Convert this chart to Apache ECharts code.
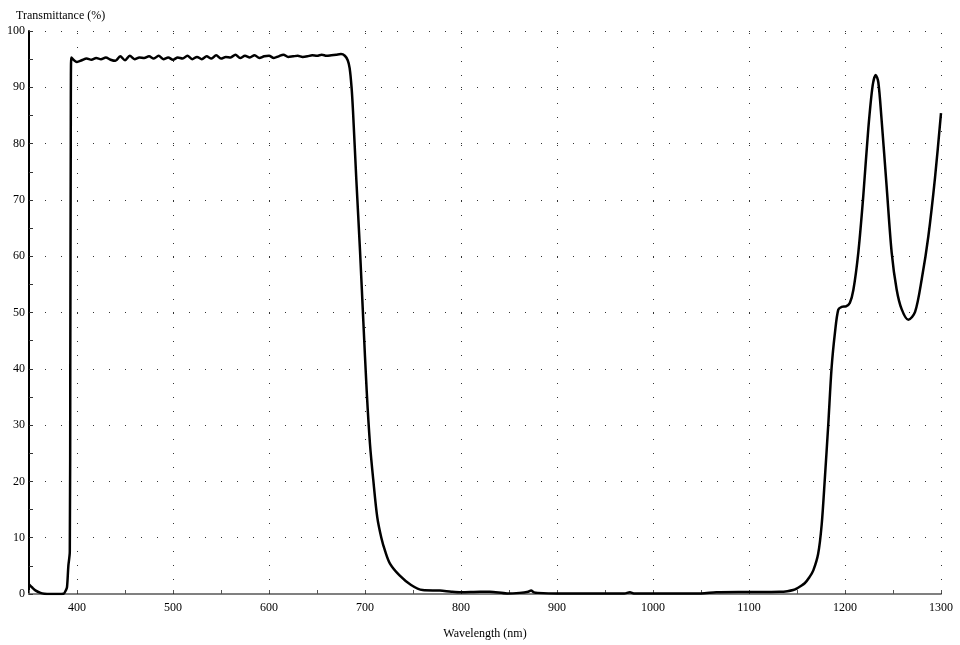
<!DOCTYPE html>
<html>
<head>
<meta charset="utf-8">
<script src="https://cdn.jsdelivr.net/npm/echarts@6/dist/echarts.min.js"></script>
<style>
html,body{margin:0;padding:0;background:#fff;}
#chart{width:960px;height:645px;}
</style>
</head>
<body>
<div id="chart"></div>
<script>
// Wavelength (nm)
var wavelengths = [
  350, 353, 357, 362, 366, 372, 380, 386, 388.5, 389.6, 391, 392.5, 393, 393.5, 394,
  400, 405, 410, 415, 420, 425, 430, 435, 440, 445, 450, 455, 460, 465, 470, 475, 480, 485, 490, 495,
  500, 505, 510, 515, 520, 525, 530, 535, 540, 545, 550, 555, 560, 565, 570, 575, 580, 585, 590, 595,
  600, 605, 610, 615, 620, 625, 630, 635, 640, 645, 650, 655, 660, 665, 670, 675, 679,
  682, 684, 686, 687.5, 691, 694.8, 698.3, 701.8, 705.2, 708.6, 712.8, 717, 721, 726, 736, 748, 760,
  778, 790, 800, 820, 830, 848, 861, 870, 873, 876, 880, 900, 950, 970, 976, 980, 1050, 1066, 1100,
  1132, 1140, 1146, 1150, 1158, 1163, 1167, 1172, 1175.7, 1179, 1182.6, 1186, 1189.6, 1193, 1196.6,
  1201, 1205, 1208.7, 1213.9, 1219, 1224.3, 1228.8, 1232, 1234.7, 1238, 1243.4, 1248.6, 1253.8, 1259,
  1266, 1273, 1280, 1286.8, 1293.8, 1300
];
// Transmittance (%)
var transmittance = [
  1.7, 1.2, 0.6, 0.2, 0.05, 0, 0, 0.05, 0.7, 1.2, 5, 7.5, 40, 80, 95.3,
  94.5, 94.8, 95.1, 94.9, 95.2, 95.0, 95.3, 94.9, 94.7, 95.5, 94.8, 95.6, 95.0, 95.3, 95.2, 95.5, 95.1, 95.6, 95.0, 95.3,
  94.9, 95.3, 95.1, 95.6, 95.0, 95.4, 95.0, 95.5, 95.1, 95.7, 95.1, 95.4, 95.3, 95.8, 95.2, 95.6, 95.3, 95.7, 95.2, 95.5,
  95.6, 95.2, 95.5, 95.8, 95.4, 95.5, 95.6, 95.4, 95.5, 95.7, 95.6, 95.8, 95.6, 95.7, 95.8, 95.9, 95.6,
  94.8, 93.4, 90, 85.8, 73.5, 61, 48.3, 36, 26.6, 20.3, 13.6, 10, 7.6, 5.4, 3.3, 1.6, 0.7,
  0.6, 0.4, 0.3, 0.4, 0.4, 0.1, 0.2, 0.4, 0.6, 0.3, 0.2, 0.1, 0.1, 0.1, 0.3, 0.1, 0.1, 0.3, 0.35,
  0.4, 0.5, 0.7, 1.0, 1.9, 3, 4.2, 7.1, 12.3, 20.5, 30.2, 40.1, 46.5, 50.5, 51,
  51.1, 51.7, 54, 60.7, 70.6, 82.7, 90.3, 92.2, 90.9, 84.5, 72.3, 60.7, 54.1, 50.6,
  48.7, 50.1, 56, 63.5, 74, 85.4
];
// Vertical grid lines / labelled wavelengths
var xGridValues = [400, 500, 600, 700, 800, 900, 1000, 1100, 1200, 1300];
var xTitle = 'Wavelength (nm)';
var yTitle = 'Transmittance (%)';

var seriesData = wavelengths.map(function (w, i) { return [w, transmittance[i]]; });
var font = '"Liberation Serif", "Times New Roman", serif';

var chart = echarts.init(document.getElementById('chart'), null, {renderer: 'canvas'});
chart.setOption({
  animation: false,
  backgroundColor: '#ffffff',
  title: {
    text: yTitle,
    left: 11, top: 5,
    textStyle: {fontFamily: font, fontSize: 12, fontWeight: 'normal', color: '#000'}
  },
  grid: {left: 29, right: 19, top: 31, bottom: 41, containLabel: false},
  xAxis: {
    type: 'value', min: 350, max: 1300, interval: 50,
    name: xTitle, nameLocation: 'middle', nameGap: 34,
    nameTextStyle: {fontFamily: font, fontSize: 12, color: '#000'},
    axisLine: {show: true, onZero: false, lineStyle: {color: '#808080', width: 2}},
    axisTick: {show: true, inside: true, length: 4, lineStyle: {color: '#555'}},
    axisLabel: {fontFamily: font, fontSize: 12, color: '#000', margin: 8,
      formatter: function (v) { return (v % 100 === 0) ? String(v) : ''; }},
    splitLine: {show: false}
  },
  yAxis: {
    type: 'value', min: 0, max: 100, interval: 10,
    axisLine: {show: true, lineStyle: {color: '#000', width: 2}},
    axisTick: {show: true, inside: true, length: 4, lineStyle: {color: '#333'}},
    minorTick: {show: true, splitNumber: 2, length: 4, lineStyle: {color: '#333'}},
    axisLabel: {fontFamily: font, fontSize: 12, color: '#000', margin: 4},
    splitLine: {show: true, lineStyle: {color: '#333', type: [1, 15], width: 1}}
  },
  series: [{
    type: 'line',
    data: seriesData,
    showSymbol: false,
    smooth: 0.3,
    lineStyle: {color: '#000', width: 2.5},
    clip: true,
    z: 3,
    markLine: {
      silent: true,
      symbol: ['none', 'none'],
      label: {show: false},
      animation: false,
      lineStyle: {color: '#333', type: [1, 13], width: 1},
      data: xGridValues.map(function (v) { return {xAxis: v}; }),
      z: 1
    }
  }]
});
</script>
</body>
</html>
